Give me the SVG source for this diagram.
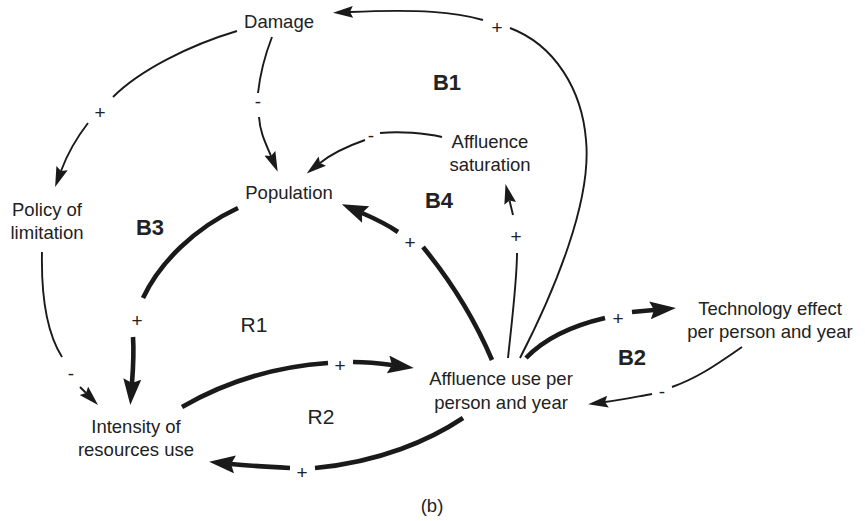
<svg xmlns="http://www.w3.org/2000/svg" width="865" height="521" viewBox="0 0 865 521">
  <style>
    .node { font-family: "Liberation Sans", Arial, sans-serif; font-size: 18.5px; fill: #222; text-anchor: middle; }
    .loop { font-family: "Liberation Sans", Arial, sans-serif; font-size: 22px; font-weight: bold; fill: #222; text-anchor: middle; }
    .loopr { font-family: "Liberation Sans", Arial, sans-serif; font-size: 21px; fill: #222; text-anchor: middle; }
    .pol { font-family: "Liberation Sans", Arial, sans-serif; font-size: 19px; fill: #222; text-anchor: middle; }
    .thin { fill: none; stroke: #1a1a1a; stroke-width: 1.9; }
    .thick { fill: none; stroke: #1a1a1a; stroke-width: 4.6; }
  </style>
  <defs>
    <marker id="ah-thin" markerUnits="userSpaceOnUse" markerWidth="22" markerHeight="14" refX="3" refY="6" orient="auto">
      <path d="M0,0 L20,6 L0,12 L3,6 z" fill="#1a1a1a"/>
    </marker>
    <marker id="ah-thick" markerUnits="userSpaceOnUse" markerWidth="28" markerHeight="20" refX="4" refY="9" orient="auto">
      <path d="M0,0 L26,9 L0,18 L4,9 z" fill="#1a1a1a"/>
    </marker>
  </defs>
  <rect width="865" height="521" fill="#ffffff"/>

  <!-- connectors: each link is split where its polarity sign sits -->
  <g id="connectors">
    <!-- affluence use -> damage -->
    <path class="thin" d="M520,358 C555,290 592,200 586,140 C582,90 555,45 510,28"/>
    <path class="thin" d="M483,20 C455,12 420,9 350,12" marker-end="url(#ah-thin)"/>
    <!-- damage -> policy of limitation -->
    <path class="thin" d="M237,31 C190,45 140,70 113,97"/>
    <path class="thin" d="M88,123 C78,136 68,152 61,171" marker-end="url(#ah-thin)"/>
    <!-- damage -> population -->
    <path class="thin" d="M272,37 C265,55 260,75 258,93"/>
    <path class="thin" d="M259,117 C260,132 265,142 271,156" marker-end="url(#ah-thin)"/>
    <!-- affluence saturation -> population -->
    <path class="thin" d="M442,137 C425,133 400,131 380,133"/>
    <path class="thin" d="M365,140 C345,147 330,155 320,163" marker-end="url(#ah-thin)"/>
    <!-- affluence use -> population -->
    <path class="thick" d="M492,360 C475,320 450,280 423,247"/>
    <path class="thick" d="M398,232 Q385,223 362,213" marker-end="url(#ah-thick)"/>
    <!-- affluence use -> affluence saturation -->
    <path class="thin" d="M508,358 C512,320 517,280 517,253"/>
    <path class="thin" d="M513,215 L509.5,200.5" marker-end="url(#ah-thin)"/>
    <!-- policy of limitation -> intensity -->
    <path class="thin" d="M42,252 C41,300 48,335 62,357"/>
    <path class="thin" d="M80,387 L86,393" marker-end="url(#ah-thin)"/>
    <!-- population -> intensity -->
    <path class="thick" d="M238,208 C195,228 160,262 143,298"/>
    <path class="thick" d="M133,337 C134,352 133,370 132,383" marker-end="url(#ah-thick)"/>
    <!-- intensity -> affluence use -->
    <path class="thick" d="M182,407 C220,385 270,367 328,363"/>
    <path class="thick" d="M353,362 C365,362 378,363 392,365" marker-end="url(#ah-thick)"/>
    <!-- affluence use -> intensity -->
    <path class="thick" d="M463,418 C430,440 380,462 315,468"/>
    <path class="thick" d="M290,468 C270,467 250,466 231,464" marker-end="url(#ah-thick)"/>
    <!-- affluence use -> technology effect -->
    <path class="thick" d="M526,358 C545,338 575,325 605,318"/>
    <path class="thick" d="M632,312 L654,310" marker-end="url(#ah-thick)"/>
    <!-- technology effect -> affluence use -->
    <path class="thin" d="M742,347 C720,362 700,377 672,387"/>
    <path class="thin" d="M652,394 C635,397 620,400 605,402" marker-end="url(#ah-thin)"/>
  </g>

  <!-- polarity signs -->
  <g id="polarities">
    <text class="pol" x="497" y="33.5">+</text>
    <text class="pol" x="100" y="118.5">+</text>
    <text class="pol" x="258" y="108">-</text>
    <text class="pol" x="371" y="142">-</text>
    <text class="pol" x="410" y="248.5">+</text>
    <text class="pol" x="516" y="242.5">+</text>
    <text class="pol" x="137" y="326.5">+</text>
    <text class="pol" x="71" y="380">-</text>
    <text class="pol" x="340" y="371.5">+</text>
    <text class="pol" x="302" y="478.5">+</text>
    <text class="pol" x="618" y="324.5">+</text>
    <text class="pol" x="662" y="398">-</text>
  </g>

  <!-- variables -->
  <g id="damage"><text class="node" x="279" y="28">Damage</text></g>
  <g id="population"><text class="node" x="289" y="199">Population</text></g>
  <g id="policy"><text class="node" x="47" y="216">Policy of</text><text class="node" x="47" y="239">limitation</text></g>
  <g id="saturation"><text class="node" x="490" y="148">Affluence</text><text class="node" x="490" y="171">saturation</text></g>
  <g id="intensity"><text class="node" x="136" y="433">Intensity of</text><text class="node" x="136" y="456">resources use</text></g>
  <g id="affluence"><text class="node" x="501" y="385">Affluence use per</text><text class="node" x="501" y="409">person and year</text></g>
  <g id="technology"><text class="node" x="770" y="315">Technology effect</text><text class="node" x="770" y="338">per person and year</text></g>

  <!-- loop identifiers -->
  <g id="loops">
    <text class="loop" x="447" y="90">B1</text>
    <text class="loop" x="439" y="208">B4</text>
    <text class="loop" x="150" y="235">B3</text>
    <text class="loop" x="632" y="365">B2</text>
    <text class="loopr" x="254" y="332">R1</text>
    <text class="loopr" x="321" y="424">R2</text>
  </g>

  <text class="node" x="432" y="512">(b)</text>
</svg>
